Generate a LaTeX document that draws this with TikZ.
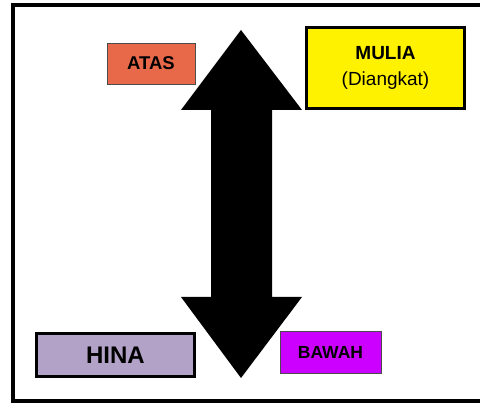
\documentclass[tikz,border=0pt]{standalone}
\usepackage{fontspec}
\setmainfont{Liberation Sans}
\definecolor{atasc}{HTML}{E8694A}
\definecolor{hinac}{HTML}{B3A2C7}
\definecolor{bawahc}{HTML}{CC00FF}
\tikzset{
  thinbox/.style={draw=black!70, line width=0.8pt, inner sep=0pt},
  thickbox/.style={draw=black, line width=3pt, inner sep=0pt},
}
\begin{document}
\begin{tikzpicture}[x=1pt,y=-1pt]
\useasboundingbox (0,0) rectangle (480,403);
\begin{scope}
\clip (0,0) rectangle (480,403);
\draw[line width=4pt] (12.5,5.3) rectangle (495,401.5);
\end{scope}
% double arrow
\fill[black] (241,30) -- (302,110) -- (272,110) -- (272,297) -- (302,297) -- (241,378) -- (181,297) -- (211,297) -- (211,110) -- (181,110) -- cycle;
\node[thinbox, fill=atasc, minimum width=88pt, minimum height=41pt, font=\fontsize{18.5}{21}\selectfont\bfseries] (atas) at (151,63.5) {ATAS};
\node[thickbox, fill=yellow, minimum width=158pt, minimum height=81pt, align=center, font=\fontsize{19}{26}\selectfont] (mulia) at (385.5,68) {\textbf{MULIA}\\(Diangkat)};
\node[thickbox, fill=hinac, minimum width=158pt, minimum height=43pt, font=\fontsize{24}{28}\selectfont\bfseries] (hina) at (115.5,355) {HINA};
\node[thinbox, fill=bawahc, minimum width=101pt, minimum height=42pt, font=\fontsize{17.5}{20}\selectfont\bfseries] (bawah) at (330.5,352) {BAWAH};
\end{tikzpicture}
\end{document}
